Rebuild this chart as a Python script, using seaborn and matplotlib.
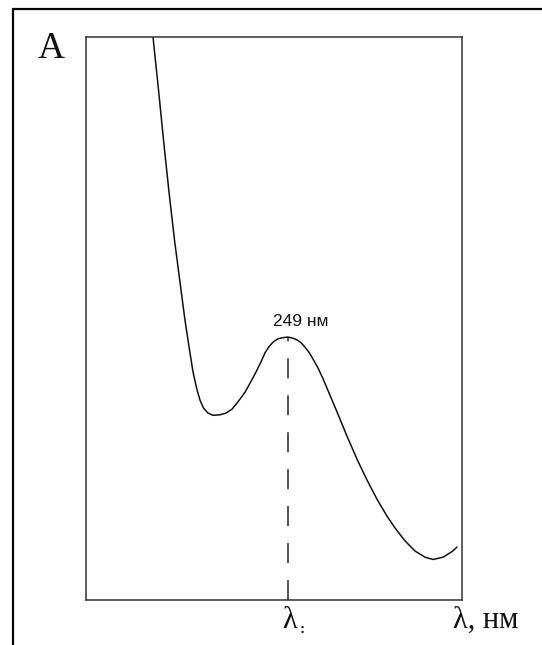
import matplotlib
matplotlib.use("Agg")
import matplotlib.pyplot as plt
from matplotlib.lines import Line2D
import pandas as pd
import seaborn as sns

# Absorption spectrum (wavelength in nm, absorbance in relative units)
wavelength = [216.25, 217.59, 218.80, 220.08, 221.47, 223.04, 224.01, 225.11,
              225.96, 226.80, 227.65, 228.50, 229.59, 230.81, 232.50, 233.96,
              235.42, 236.87, 238.57, 239.78, 241.24, 242.45, 243.42, 244.39,
              245.36, 246.57, 247.79, 249.00, 250.21, 251.18, 252.15, 253.12,
              254.09, 255.06, 256.28, 257.49, 258.70, 260.89, 263.31, 265.74,
              268.16, 270.59, 273.01, 274.95, 277.38, 279.81, 282.23, 284.17,
              286.60, 288.78, 289.99]
absorbance = [1.000, 0.906, 0.817, 0.728, 0.639, 0.551, 0.497, 0.444,
              0.405, 0.377, 0.355, 0.341, 0.332, 0.328, 0.329, 0.332,
              0.339, 0.352, 0.369, 0.385, 0.405, 0.423, 0.439, 0.450,
              0.458, 0.464, 0.466, 0.467, 0.465, 0.462, 0.457, 0.449,
              0.440, 0.428, 0.412, 0.393, 0.372, 0.334, 0.291, 0.250,
              0.213, 0.179, 0.149, 0.128, 0.105, 0.087, 0.076, 0.072,
              0.076, 0.086, 0.094]

peak_nm = 249.0
peak_abs = 0.467
peak_label = "249 нм"
y_label = "A"
x_label = "λ, нм"
peak_axis_label = "λ"

x_min, x_max = 200.0, 291.2
y_min, y_max = 0.0, 1.0

W, H = 542, 645
sns.set_style("white")
plt.rcParams["lines.scale_dashes"] = False

fig = plt.figure(figsize=(W / 100, H / 100), dpi=100)
fig.patch.set_facecolor("white")


def fx(px):
    return px / W


def fy(py):
    return 1 - py / H


ax = fig.add_axes([fx(86), fy(600), fx(462) - fx(86), fy(37) - fy(600)])

df = pd.DataFrame({"wavelength": wavelength, "absorbance": absorbance})
sns.lineplot(data=df, x="wavelength", y="absorbance", ax=ax,
             color="#111111", lw=1.1, sort=False, estimator=None)

# vertical marker at the absorption maximum, dashed upward from the axis
ax.plot([peak_nm, peak_nm], [y_min, peak_abs], color="#222222", lw=1.1,
        ls=(0, (14.4, 12.2)))

ax.set_xlim(x_min, x_max)
ax.set_ylim(y_min, y_max)
ax.set_xticks([])
ax.set_yticks([])
ax.set_xlabel("")
ax.set_ylabel("")
for s in ax.spines.values():
    s.set_color("#333333")
    s.set_linewidth(1.1)
    s.set_visible(True)

ax.annotate(peak_label, xy=(peak_nm, peak_abs), xytext=(-11, 6),
            textcoords="offset points", ha="left", va="bottom",
            fontsize=12.5, family="Liberation Sans", color="#111111")

serif = ["Liberation Serif", "DejaVu Serif"]
fig.text(fx(51), fy(58), y_label, ha="center", va="baseline",
         fontsize=27, family=serif, color="#111111")
fig.text(fx(453), fy(628), x_label, ha="left", va="baseline",
         fontsize=22, family=serif, color="#111111")
fig.text(fx(290), fy(628), peak_axis_label, ha="center", va="baseline",
         fontsize=22, family=serif, color="#111111")
fig.text(fx(302), fy(633), ":", ha="center", va="baseline",
         fontsize=11, family=serif, color="#111111", weight="bold")

# outer frame (left and top edges)
fig.add_artist(Line2D([fx(13), fx(13)], [0, fy(9)], color="black", lw=1.6,
                      transform=fig.transFigure))
fig.add_artist(Line2D([fx(13), 1], [fy(9), fy(9)], color="black", lw=1.6,
                      transform=fig.transFigure))

fig.savefig("out.png", dpi=100, facecolor="white")
